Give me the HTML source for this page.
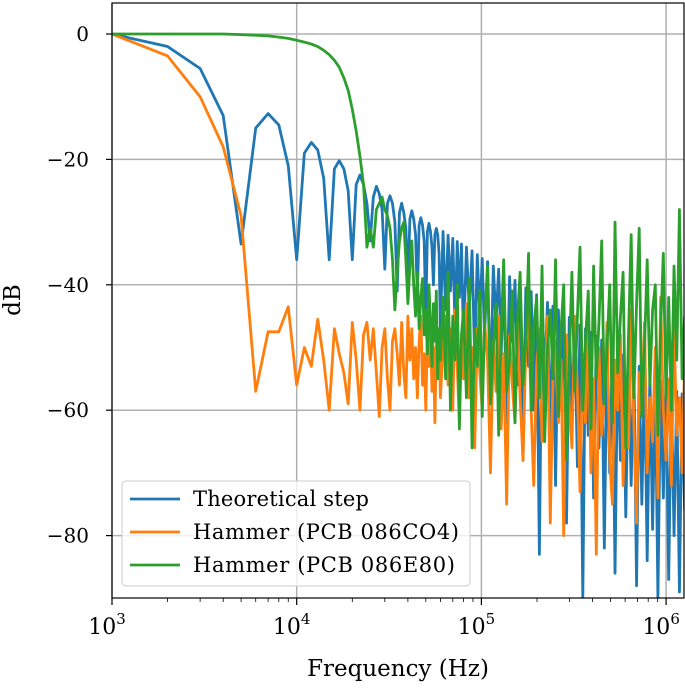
<!DOCTYPE html>
<html><head><meta charset="utf-8"><style>
body{margin:0;background:#fff}
svg text{font-family:"DejaVu Serif","Liberation Serif",serif;fill:#000}
</style></head><body>
<svg id="chart" width="685" height="685" xmlns="http://www.w3.org/2000/svg">
<defs><clipPath id="clip"><rect x="112" y="3" width="572" height="595"/></clipPath></defs>
<g id="grid"></g>
<g id="series" clip-path="url(#clip)"></g>
<rect x="112" y="3" width="572" height="595" fill="none" stroke="#000" stroke-width="1.2"/>
<g id="axes"></g>
<text x="398" y="676" font-size="23" text-anchor="middle">Frequency (Hz)</text>
<text transform="translate(20,300) rotate(-90)" font-size="23" text-anchor="middle">dB</text>
<g>
<rect x="122" y="481" width="348" height="105" rx="4" fill="#fff" fill-opacity="0.8" stroke="#ccc"/>
<line x1="130" y1="499" x2="180" y2="499" stroke="#1f77b4" stroke-width="2.8"/>
<text x="193" y="506" font-size="21" textLength="176">Theoretical step</text>
<line x1="130" y1="532" x2="180" y2="532" stroke="#ff7f0e" stroke-width="2.8"/>
<text x="193" y="539" font-size="21" textLength="266">Hammer (PCB 086CO4)</text>
<line x1="130" y1="565" x2="180" y2="565" stroke="#2ca02c" stroke-width="2.8"/>
<text x="193" y="572" font-size="21" textLength="262">Hammer (PCB 086E80)</text>
</g>
</svg>
<script>
const freqKHz = [1,2,3,4,5,6,7,8,9,10,11,12,13,14,15,16,17,18,19,20,21,22,23,24,25,26,27,28,29,30,31,32,33,34,35,36,37,38,39,40,41,42,43,44,45,46,47,48,49,50,51,52,53,54,55,56,57,58,59,60,
62,64,66,68,70,72,74,76,78,80,83,86,89,92,95,98,101,104,108,112,116,120,124,128,132,137,142,147,152,157,162,168,174,180,186,192,199,206,213,220,228,236,244,252,261,270,279,289,299,309,320,331,342,354,366,379,392,405,419,433,448,463,479,495,512,529,547,566,585,605,626,647,669,692,715,739,764,790,817,845,874,903,934,966,999,1033,1068,1104,1142,1181,1221,1260];
const theoretical = [0,-2,-5.5,-13,-33.5,-15,-12.7,-14.5,-21,-36,-19,-17.3,-18.5,-23,-36,-21.5,-20.2,-21.5,-25,-36,-24,-22.5,-24,-27,-33,-26,-24.3,-25.5,-28,-37.5,-27,-25.8,-27,-30,-41,-28.5,-27,-28.5,-31,-40,-29.5,-28.2,-29.5,-32,-42,-30.5,-29.3,-30.5,-33,-45,-31.5,-30.2,-31.5,-34,-40,-32,-31,-32,-35,-47,
-31.5,-44,-32.1,-41,-32.6,-47,-33.1,-42,-33.5,-49,-34.0,-44,-34.6,-52,-35.2,-45,-35.8,-48,-36.3,-58,-37.0,-46,-37.5,-51,-38.1,-62,-38.7,-49,-39.3,-56,-39.9,-68,-40.5,-53,-41.1,-60,-41.6,-83,-42.2,-55,-42.8,-65,-43.4,-72,-44.0,-58,-44.6,-78,-45.2,-62,-45.8,-69,-46.4,-90,-47.0,-64,-47.6,-74,-48.2,-66,-48.8,-82,-49.4,-70,-50.0,-86,-50.6,-68,-51.2,-77,-51.8,-72,-52.4,-88,-53.0,-75,-53.6,-84,-54.2,-79,-54.8,-90,-55.4,-74,-56.0,-87,-56.5,-80,-57.0,-89,-57.4,-76];
const hammer086CO4 = [0,-3.5,-10,-18,-29,-57,-47.5,-47.5,-43.5,-56,-50,-53,-45.5,-52,-60,-47,-51,-54,-59,-46,-52,-60,-48,-46,-52,-47,-54,-61,-50,-47,-55,-60,-49,-47,-51,-56,-46,-54,-58,-45,-52,-47,-55,-50,-58,-49,-45,-56,-51,-60,-48,-53,-46,-57,-50,-62,-49,-55,-47,-58,
-50,-45,-56,-47,-60,-44,-53,-62,-48,-55,-43,-58,-50,-66,-47,-54,-60,-46,-52,-70,-49,-57,-45,-63,-51,-75,-48,-56,-62,-46,-58,-68,-50,-44,-60,-72,-53,-47,-65,-58,-45,-78,-55,-49,-62,-52,-80,-48,-59,-66,-45,-57,-73,-51,-62,-47,-70,-55,-83,-50,-64,-58,-46,-68,-75,-52,-60,-48,-72,-57,-66,-44,-62,-78,-54,-61,-46,-70,-58,-65,-50,-74,-42,-60,-68,-55,-72,-47,-64,-58,-70,-52];
const hammer086E80 = [0,0,0,0,-0.1,-0.2,-0.3,-0.5,-0.7,-1,-1.3,-1.6,-2,-2.6,-3.3,-4.2,-5.3,-7,-9,-12,-15.5,-19.5,-24,-34,-31,-34,-28,-27,-26,-28,-29,-31,-36,-44,-38,-33,-31,-30,-36,-43,-37,-33,-40,-45,-38,-47,-42,-39,-48,-44,-51,-40,-46,-53,-43,-49,-41,-55,-47,-52,
-42,-55,-38,-60,-45,-52,-40,-63,-48,-44,-58,-39,-66,-47,-53,-41,-61,-46,-37,-59,-50,-43,-64,-48,-36,-57,-52,-41,-62,-45,-38,-56,-49,-35,-60,-47,-42,-58,-37,-65,-50,-44,-55,-36,-61,-47,-40,-68,-52,-38,-57,-45,-34,-60,-49,-41,-63,-37,-55,-46,-33,-59,-50,-40,-62,-30,-54,-45,-38,-66,-48,-32,-58,-43,-31,-61,-50,-36,-56,-44,-40,-64,-47,-35,-58,-42,-60,-37,-52,-28,-55,-45];
const yTicks = [0,-20,-40,-60,-80];
const xTickExps = [3,4,5,6];

const NS="http://www.w3.org/2000/svg";
const X0=112, DEC=184.7, Y0=34, PXDB=6.27;
const xs = hz => X0 + DEC*(Math.log10(hz)-3);
const ys = db => Y0 - PXDB*db;
function mk(tag, attrs, parent){const e=document.createElementNS(NS,tag);for(const k in attrs)e.setAttribute(k,attrs[k]);parent.appendChild(e);return e;}
const grid=document.getElementById('grid'), axes=document.getElementById('axes'), ser=document.getElementById('series');
yTicks.forEach(v=>{
  const y=ys(v);
  const g=mk('line',{x1:112,x2:684,y1:y,y2:y,stroke:'#b0b0b0','stroke-width':1.5},grid);
  
  
  const t=mk('line',{x1:106,x2:112,y1:y,y2:y,stroke:'#000','stroke-width':1.2},axes);
  
  
  const l=mk('text',{x:89,y:y+7,'font-size':20,'text-anchor':'end'},axes);
  l.textContent=(v<0?'\u2212'+(-v):String(v));
  
  
});
xTickExps.forEach(e=>{
  const x=xs(Math.pow(10,e));
  const g=mk('line',{x1:x,x2:x,y1:3,y2:598,stroke:'#b0b0b0','stroke-width':1.5},grid);
  
  
  const t=mk('line',{x1:x,x2:x,y1:598,y2:605,stroke:'#000','stroke-width':1.2},axes);
  
  
  const l=mk('text',{x:x-5,y:634,'font-size':22,'text-anchor':'middle'},axes);
  l.innerHTML='10<tspan dy="-10" font-size="15">'+e+'</tspan>';
  
  
});
for(let e=3;e<=6;e++){for(let m=2;m<=9;m++){const hz=m*Math.pow(10,e);if(hz>1.27e6)break;
  const t=mk('line',{x1:xs(hz),x2:xs(hz),y1:598,y2:602,stroke:'#000','stroke-width':0.8},axes);
  
  
}}
function draw(vals,color,name){
  const n=Math.min(vals.length,freqKHz.length);
  let d='';
  for(let i=0;i<n;i++){d+=(i?'L':'M')+xs(freqKHz[i]*1000).toFixed(2)+','+ys(vals[i]).toFixed(2);}
  const p=mk('path',{d:d,fill:'none',stroke:color,'stroke-width':2.8,'stroke-linejoin':'round'},ser);
  
  
}
draw(theoretical,'#1f77b4','theoretical-step-line');
draw(hammer086CO4,'#ff7f0e','hammer-086co4-line');
draw(hammer086E80,'#2ca02c','hammer-086e80-line');
</script>
</body></html>
